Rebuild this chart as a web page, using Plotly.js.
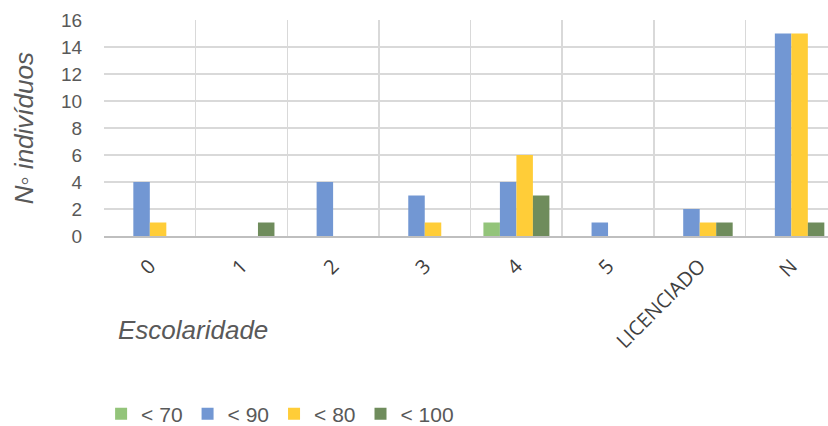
<!DOCTYPE html>
<html>
<head>
<meta charset="utf-8">
<script src="https://cdn.plot.ly/plotly-3.0.1.min.js"></script>
<style>html,body{margin:0;padding:0;background:#fff;}#chart{width:828px;height:426px;}</style>
</head>
<body>
<div id="chart"></div>
<script>
const categories = ["0", "1", "2", "3", "4", "5", "LICENCIADO", "N"];
const seriesNames = ["< 70", "< 90", "< 80", "< 100"];
const lt70 = [0, 0, 0, 0, 1, 0, 0, 0];
const lt90 = [4, 0, 4, 3, 4, 1, 2, 15];
const lt80 = [1, 0, 0, 1, 6, 0, 1, 15];
const lt100 = [0, 1, 0, 0, 3, 0, 1, 1];
const yTicks = [0, 2, 4, 6, 8, 10, 12, 14, 16];

const colors = ["#93c47a", "#7297d3", "#ffcd38", "#6f8c5c"];
const values = [lt70, lt90, lt80, lt100];

const traces = values.map((v, i) => ({
  type: "bar",
  name: seriesNames[i],
  x: categories,
  y: v,
  marker: {color: colors[i]},
  hoverinfo: "x+y+name"
}));

const layout = {
  width: 828, height: 426,
  margin: {l: 104, r: 0, t: 20, b: 190, autoexpand: false},
  paper_bgcolor: "#ffffff", plot_bgcolor: "#ffffff",
  barmode: "group", bargap: 0.28, bargroupgap: 0,
  font: {family: "Liberation Sans, Arial, sans-serif", color: "#595959"},
  xaxis: {
    type: "category",
    range: [-0.5, 7.4],
    tickson: "boundaries",
    showgrid: true, gridcolor: "#d9d9d9", gridwidth: 1.5,
    showline: true, linecolor: "#bfbfbf", linewidth: 1.5,
    ticks: "", ticklabelstandoff: 9,
    tickangle: -45,
    tickfont: {family: "Open Sans, sans-serif", size: 20, color: "#404040"},
    automargin: false,
    fixedrange: true
  },
  yaxis: {
    range: [0, 16],
    tickvals: yTicks,
    ticktext: yTicks.map(String),
    showgrid: true, gridcolor: "#d9d9d9", gridwidth: 1.5,
    zeroline: false, showline: false,
    ticks: "outside", ticklen: 17, tickcolor: "rgba(0,0,0,0)",
    tickfont: {size: 19, color: "#595959"},
    automargin: false,
    fixedrange: true
  },
  showlegend: true,
  legend: {
    orientation: "h",
    x: -0.004, xanchor: "left",
    y: -0.825, yanchor: "middle",
    font: {size: 21, color: "#595959"},
    itemwidth: 30,
    tracegroupgap: 0
  },
  annotations: [
    {
      text: "N\u25E6 indivíduos",
      xref: "paper", yref: "paper",
      x: -0.11, xanchor: "center",
      y: 0.5, yanchor: "middle",
      textangle: -90, showarrow: false,
      font: {size: 26, color: "#595959", style: "italic"}
    },
    {
      text: "Escolaridade",
      xref: "paper", yref: "paper",
      x: 0.016, xanchor: "left",
      y: -0.435, yanchor: "middle",
      showarrow: false,
      font: {size: 26, color: "#595959", style: "italic"}
    }
  ]
};

Plotly.newPlot("chart", traces, layout, {displayModeBar: false, staticPlot: true});
</script>
</body>
</html>
